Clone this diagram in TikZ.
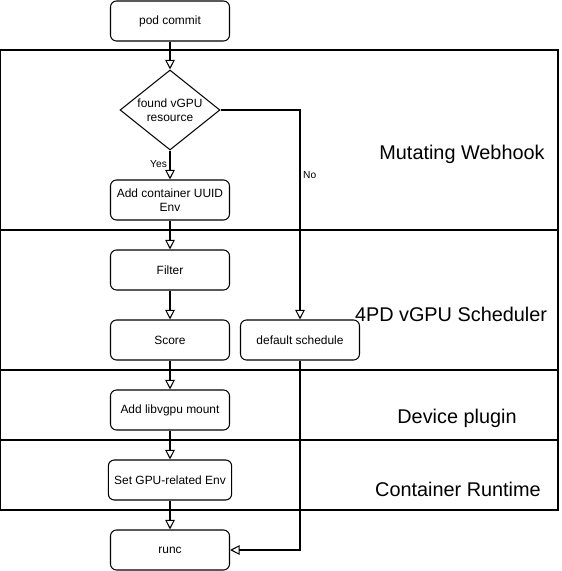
\documentclass[tikz,border=0pt]{standalone}
\usepackage{fontspec}
\setmainfont{Liberation Sans}
\usetikzlibrary{positioning,shapes.geometric,arrows.meta}

\begin{document}
\begin{tikzpicture}[x=0.02cm,y=-0.02cm,line width=0.6pt,
	stepbox/.style={draw,rounded corners=3.4pt,minimum width=2.38cm,minimum height=0.8cm,align=center,font=\fontsize{6.8}{8}\selectfont},
	choice/.style={draw,diamond,aspect=1.25,inner sep=0pt,minimum width=2cm,minimum height=1.6cm,align=center,font=\fontsize{6.8}{8}\selectfont},
	lane/.style={font=\fontsize{11.3}{13}\selectfont},
	flow/.style={-{Triangle[open,length=5.5pt,width=5.5pt]}},
	tag/.style={font=\fontsize{5.8}{7}\selectfont,inner sep=1.5pt}]
	\useasboundingbox (0,0) rectangle (561,571);
	%\draw[help lines] (0,0) grid[step=1cm] (561,571);
	\draw (0,50) rectangle (558,230);
	\draw (0,230) rectangle (558,370);
	\draw (0,370) rectangle (558,440);
	\draw (0,440) rectangle (558,510);
	\node[lane] (webhook) at (462,154) {Mutating Webhook};
	\node[lane] (scheduler) at (451,314) {4PD vGPU Scheduler};
	\node[lane] (plugin) at (457,418) {Device plugin};
	\node[lane] (runtime) at (458,489) {Container Runtime};
	\node[stepbox] (pod) at (170,21) {pod commit};
	\node[choice] (found) at (170,110) {found vGPU\\resource};
	\node[stepbox] (uuid) at (170,200) {Add container UUID\\Env};
	\node[stepbox] (filter) at (170,270) {Filter};
	\node[stepbox] (score) at (170,340) {Score};
	\node[stepbox] (default) at (300,340) {default schedule};
	\node[stepbox] (mount) at (170,410) {Add libvgpu mount};
	\node[stepbox] (env) at (170,480) {Set GPU-related Env};
	\node[stepbox] (runc) at (170,550) {runc};
	\draw[flow] (pod) -- (found);
	\draw[flow] (found) -- node[tag,left,pos=0.45] {Yes} (uuid);
	\draw[flow] (uuid) -- (filter);
	\draw[flow] (filter) -- (score);
	\draw[flow] (score) -- (mount);
	\draw[flow] (mount) -- (env);
	\draw[flow] (env) -- (runc);
	\draw[flow] (found.east) -| node[tag,right,pos=0.655] {No} (default.north);
	\draw[flow] (default.south) |- (runc.east);
\end{tikzpicture}
\end{document}
